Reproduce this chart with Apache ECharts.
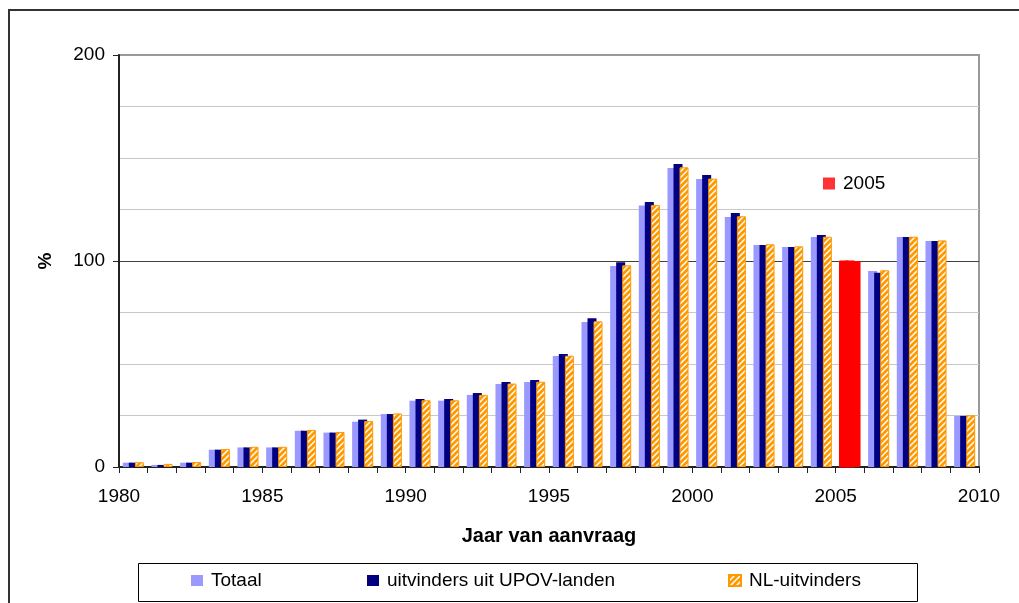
<!DOCTYPE html>
<html>
<head>
    <meta charset="utf-8">
    <title>Jaar van aanvraag</title>
    <script src="https://cdn.jsdelivr.net/npm/echarts@6/dist/echarts.min.js"></script>
</head>
<body style="margin:0;background:#fff;">
    <div id="main" style="width:1019px;height:603px;"></div>
    <script type="text/javascript">
        // gegevens (index, 2005 = 100)
        var years = [1980, 1981, 1982, 1983, 1984, 1985, 1986, 1987, 1988, 1989,
                     1990, 1991, 1992, 1993, 1994, 1995, 1996, 1997, 1998, 1999,
                     2000, 2001, 2002, 2003, 2004, 2005, 2006, 2007, 2008, 2009];
        var totaal = [2.1, 1.0, 2.1, 8.4, 9.5, 9.5, 17.6, 16.7, 22.0, 25.7,
                      32.2, 32.2, 35.0, 40.3, 41.3, 53.9, 70.4, 97.6, 127.0, 145.1,
                      139.8, 121.4, 107.8, 106.8, 111.7, 100, 95.1, 111.7, 109.7, 24.8];
        var upov = [2.1, 1.0, 2.1, 8.4, 9.5, 9.5, 17.6, 16.7, 23.0, 25.7,
                    33.0, 33.0, 35.9, 41.3, 42.2, 54.9, 72.2, 99.4, 128.6, 147.1,
                    141.7, 123.3, 107.8, 106.8, 112.6, 100, 94.3, 111.7, 109.7, 24.8];
        var nl = [2.3, 1.5, 2.4, 8.7, 9.8, 9.8, 18.0, 17.0, 22.3, 26.0,
                  32.4, 32.4, 35.0, 40.5, 41.4, 54.0, 70.7, 97.9, 127.2, 145.5,
                  140.0, 121.7, 108.1, 107.1, 111.8, 100, 95.5, 111.8, 110.0, 25.1];
        var seriesNames = ['Totaal', 'uitvinders uit UPOV-landen', 'NL-uitvinders'];
        var refYear = 2005;

        var font = 'Liberation Sans, Arial, sans-serif';

        // gearceerd patroon voor NL-uitvinders
        function hatch() {
            var c = document.createElement('canvas');
            c.width = 6; c.height = 6;
            var g = c.getContext('2d');
            g.fillStyle = '#FF9900';
            g.fillRect(0, 0, 6, 6);
            g.strokeStyle = '#FFFFFF';
            g.lineWidth = 1.5;
            g.beginPath();
            g.moveTo(0, 6); g.lineTo(6, 0);
            g.moveTo(-1, 1); g.lineTo(1, -1);
            g.moveTo(5, 7); g.lineTo(7, 5);
            g.stroke();
            return c;
        }
        var orangeHatch = { image: hatch(), repeat: 'repeat' };

        function makeData(values) {
            var out = [];
            for (var i = 0; i < years.length; i++) {
                var item = { value: [years[i] + 0.5, values[i]] };
                if (years[i] === refYear) {
                    item.itemStyle = { color: '#FF0000', borderColor: '#FF0000' };
                }
                out.push(item);
            }
            return out;
        }

        var myChart = echarts.init(document.getElementById('main'));

        var legendBase = {
            orient: 'horizontal',
            padding: 0,
            icon: 'rect',
            itemWidth: 12,
            itemHeight: 11,
            textStyle: { fontFamily: font, fontSize: 19, color: '#000', padding: [0, 0, 0, 3] }
        };

        var option = {
            animation: false,
            backgroundColor: '#fff',
            grid: {
                left: 119, right: 40, top: 55, bottom: 136,
                show: true,
                borderColor: '#999',
                borderWidth: 2
            },
            legend: [
                Object.assign({}, legendBase, { data: [seriesNames[0]], left: 191, top: 571 }),
                Object.assign({}, legendBase, { data: [seriesNames[1]], left: 367, top: 571 }),
                Object.assign({}, legendBase, { data: [seriesNames[2]], left: 728, top: 571 }),
                Object.assign({}, legendBase, { data: [String(refYear)], left: 823, top: 174, itemWidth: 12, itemHeight: 12 })
            ],
            xAxis: {
                type: 'value',
                min: 1980,
                max: 2010,
                interval: 1,
                name: 'Jaar van aanvraag',
                nameLocation: 'middle',
                nameGap: 59,
                nameTextStyle: { fontFamily: font, fontSize: 20, fontWeight: 'bold', color: '#000' },
                axisLine: { show: true, lineStyle: { color: '#222', width: 2 } },
                axisTick: { show: true, length: 6, lineStyle: { color: '#222', width: 1 } },
                axisLabel: {
                    margin: 20,
                    fontFamily: font, fontSize: 19, color: '#000',
                    formatter: function (v) { return v % 5 === 0 ? String(v) : ''; }
                },
                splitLine: { show: false }
            },
            yAxis: {
                type: 'value',
                min: 0,
                max: 200,
                interval: 100,
                name: '%',
                nameLocation: 'middle',
                nameRotate: 90,
                nameGap: 64,
                nameTextStyle: { fontFamily: font, fontSize: 19, fontWeight: 'bold', color: '#000' },
                axisLine: { show: true, lineStyle: { color: '#222', width: 2 } },
                axisTick: { show: true, length: 6, lineStyle: { color: '#222', width: 1 } },
                axisLabel: { margin: 14, fontFamily: font, fontSize: 19, color: '#000' },
                splitLine: { show: true, showMinLine: false, showMaxLine: false, lineStyle: { color: '#404040', width: 1 } },
                minorTick: { show: false, splitNumber: 4 },
                minorSplitLine: { show: true, lineStyle: { color: '#c8c8c8', width: 1 } }
            },
            series: [
                {
                    name: seriesNames[0],
                    type: 'bar',
                    barWidth: 9,
                    barGap: '-33%',
                    itemStyle: { color: '#9999FF' },
                    data: makeData(totaal)
                },
                {
                    name: seriesNames[1],
                    type: 'bar',
                    barWidth: 9,
                    barGap: '-33%',
                    itemStyle: { color: '#000080' },
                    data: makeData(upov)
                },
                {
                    name: seriesNames[2],
                    type: 'bar',
                    barWidth: 9,
                    barGap: '-33%',
                    itemStyle: { color: orangeHatch, borderColor: '#FF9900', borderWidth: 1 },
                    data: makeData(nl)
                },
                {
                    // alleen voor de legenda "2005"
                    name: String(refYear),
                    type: 'scatter',
                    itemStyle: { color: '#FF0000' },
                    data: []
                }
            ],
            graphic: [
                {
                    type: 'rect',
                    shape: { x: 9, y: 10, width: 1100, height: 700 },
                    style: { fill: 'none', stroke: '#333', lineWidth: 2 },
                    z: -1
                },
                {
                    type: 'rect',
                    shape: { x: 138.5, y: 563.5, width: 779, height: 38 },
                    style: { fill: 'none', stroke: '#000', lineWidth: 1 }
                }
            ]
        };

        myChart.setOption(option);
    </script>
</body>
</html>
